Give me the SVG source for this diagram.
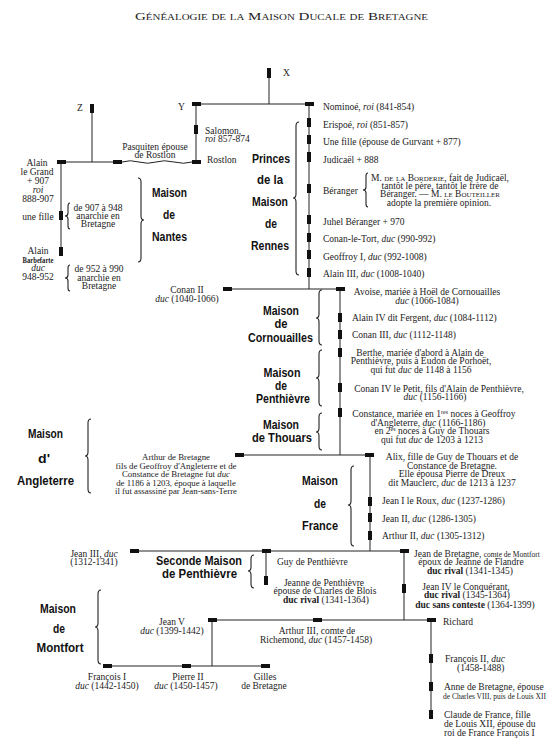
<svg xmlns="http://www.w3.org/2000/svg" width="554" height="751" viewBox="0 0 554 751">
<style>
.ln{stroke:#222;stroke-width:1;fill:none}
.br{stroke:#222;stroke-width:1.1;fill:none}
.mk{fill:#111}
.t{font-family:"Liberation Serif",serif;font-size:9.5px;fill:#222}
.s{font-size:8.8px}
.h{font-family:"Liberation Sans","DejaVu Sans",sans-serif;font-weight:bold;font-size:13px;fill:#111;text-anchor:middle}
.i{font-style:italic}
.b{font-weight:bold}
.c{text-anchor:middle}
</style>
<rect width="554" height="751" fill="#fff"/>
<text x="135" y="20" class="t" style="font-size:11px;font-variant:small-caps" textLength="293" lengthAdjust="spacingAndGlyphs">Généalogie de la Maison Ducale de Bretagne</text>

<g id="connectors">
<path class="ln" d="M269,78 V104 M196,104 H309 M196,104 V162 M92,113 V162 M61,162 H122 M61,162 V255 M309,104 V289 M227,289 H340 M340,289 V455 M239,455 H370 M370,455 V551 M134,551 H404 M266,551 V584 M404,551 V620 M212,620 H431 M212,620 V666 M107,666 H265 M431,620 V719"/>
<path class="ln" d="M122,162 q8,-2.5 17,0 t17,0 t18,0 t18,0"/>
</g>

<g id="braces">
<path class="br" d="M299,122 Q296,122 296,126 L296,194 Q296,198 293,198 Q296,198 296,202 L296,271 Q296,275 299,275"/>
<path class="br" d="M368,173 Q366,173 366,176 L366,187 Q366,190 363,190 Q366,190 366,193 L366,204 Q366,207 368,207"/>
<path class="br" d="M70,203 Q68,203 68,206 L68,213 Q68,216 65,216 Q68,216 68,219 L68,226 Q68,229 70,229"/>
<path class="br" d="M70,265 Q68,265 68,268 L68,275 Q68,278 65,278 Q68,278 68,281 L68,288 Q68,291 70,291"/>
<path class="br" d="M138,178 Q141,178 141,182 L141,216 Q141,220 144,220 Q141,220 141,224 L141,258 Q141,262 138,262"/>
<path class="br" d="M322,290 Q319,290 319,294 L319,314 Q319,318 316,318 Q319,318 319,322 L319,341 Q319,345 322,345"/>
<path class="br" d="M322,350 Q319,350 319,354 L319,374 Q319,378 316,378 Q319,378 319,382 L319,402 Q319,406 322,406"/>
<path class="br" d="M322,413 Q319,413 319,417 L319,428 Q319,432 316,432 Q319,432 319,436 L319,446 Q319,450 322,450"/>
<path class="br" d="M91,419 Q88,419 88,423 L88,452 Q88,456 85,456 Q88,456 88,460 L88,489 Q88,493 91,493"/>
<path class="br" d="M354,466 Q351,466 351,470 L351,501 Q351,505 348,505 Q351,505 351,509 L351,542 Q351,546 354,546"/>
<path class="br" d="M254,555 Q251,555 251,559 L251,567 Q251,571 248,571 Q251,571 251,575 L251,584 Q251,588 254,588"/>
<path class="br" d="M101,590 Q98,590 98,594 L98,623 Q98,627 95,627 Q98,627 98,631 L98,660 Q98,664 101,664"/>
</g>

<g id="houses">
<text class="h" x="169.5" y="197" textLength="35" lengthAdjust="spacingAndGlyphs">Maison</text>
<text class="h" x="169" y="219" textLength="12" lengthAdjust="spacingAndGlyphs">de</text>
<text class="h" x="169.5" y="241" textLength="35" lengthAdjust="spacingAndGlyphs">Nantes</text>
<text class="h" x="271" y="163" textLength="38" lengthAdjust="spacingAndGlyphs">Princes</text>
<text class="h" x="270" y="184" textLength="26" lengthAdjust="spacingAndGlyphs">de la</text>
<text class="h" x="270" y="206" textLength="36" lengthAdjust="spacingAndGlyphs">Maison</text>
<text class="h" x="271" y="228" textLength="12" lengthAdjust="spacingAndGlyphs">de</text>
<text class="h" x="270" y="250" textLength="38" lengthAdjust="spacingAndGlyphs">Rennes</text>
<text class="h" x="281" y="315" textLength="36" lengthAdjust="spacingAndGlyphs">Maison</text>
<text class="h" x="281" y="328" textLength="13" lengthAdjust="spacingAndGlyphs">de</text>
<text class="h" x="280.5" y="342" textLength="65" lengthAdjust="spacingAndGlyphs">Cornouailles</text>
<text class="h" x="282" y="377" textLength="37" lengthAdjust="spacingAndGlyphs">Maison</text>
<text class="h" x="281" y="390" textLength="12" lengthAdjust="spacingAndGlyphs">de</text>
<text class="h" x="283" y="403" textLength="54" lengthAdjust="spacingAndGlyphs">Penthièvre</text>
<text class="h" x="281" y="429" textLength="36" lengthAdjust="spacingAndGlyphs">Maison</text>
<text class="h" x="282" y="442" textLength="60" lengthAdjust="spacingAndGlyphs">de Thouars</text>
<text class="h" x="45.5" y="438" textLength="35" lengthAdjust="spacingAndGlyphs">Maison</text>
<text class="h" x="44" y="463" textLength="12" lengthAdjust="spacingAndGlyphs">d'</text>
<text class="h" x="45.5" y="485" textLength="57" lengthAdjust="spacingAndGlyphs">Angleterre</text>
<text class="h" x="320" y="485" textLength="36" lengthAdjust="spacingAndGlyphs">Maison</text>
<text class="h" x="320" y="508" textLength="12" lengthAdjust="spacingAndGlyphs">de</text>
<text class="h" x="320" y="530" textLength="36" lengthAdjust="spacingAndGlyphs">France</text>
<text class="h" x="199" y="565" textLength="86" lengthAdjust="spacingAndGlyphs">Seconde Maison</text>
<text class="h" x="199.5" y="578" textLength="75" lengthAdjust="spacingAndGlyphs">de Penthièvre</text>
<text class="h" x="58" y="613" textLength="36" lengthAdjust="spacingAndGlyphs">Maison</text>
<text class="h" x="59" y="633" textLength="12" lengthAdjust="spacingAndGlyphs">de</text>
<text class="h" x="60" y="652" textLength="47" lengthAdjust="spacingAndGlyphs">Montfort</text>
</g>

<g id="nX"><rect class="mk" x="267" y="68" width="4" height="10"/><text class="t" x="283" y="76">X</text></g>
<g id="nY"><rect class="mk" x="192" y="102" width="9" height="4"/><text class="t" x="178" y="110">Y</text></g>
<g id="nZ"><rect class="mk" x="90" y="104" width="4" height="9"/><text class="t" x="77" y="111">Z</text></g>
<g id="nSalomon"><rect class="mk" x="194" y="125" width="4" height="9"/><text class="t" x="205" y="134">Salomon,</text><text class="t" x="205" y="142"><tspan class="i">roi</tspan> 857-874</text></g>
<g id="nRostlon"><rect class="mk" x="192" y="160" width="9" height="4"/><text class="t" x="207" y="163">Rostlon</text></g>
<g id="nPasquiten"><rect class="mk" x="113" y="160" width="9" height="4"/><text class="t c" x="155" y="150">Pasquiten épouse</text><text class="t c" x="155" y="158">de Rostlon</text></g>
<g id="nAlainGrand"><rect class="mk" x="57" y="160" width="9" height="4"/>
<text class="t c" x="37" y="166">Alain</text><text class="t c" x="37" y="175">le Grand</text><text class="t c" x="38" y="184">+ 907</text><text class="t c i" x="38" y="193">roi</text><text class="t c" x="38" y="202">888-907</text></g>
<g id="nUneFille"><rect class="mk" x="59" y="211" width="4" height="9"/><text class="t c" x="38" y="220">une fille</text>
<text class="t c" x="98" y="211">de 907 à 948</text><text class="t c" x="98" y="219">anarchie en</text><text class="t c" x="98" y="227">Bretagne</text></g>
<g id="nBarbefarte"><rect class="mk" x="59" y="247" width="4" height="9"/>
<text class="t c" x="38" y="254">Alain</text><text class="t c b" x="38" y="263" style="font-size:8px" textLength="31" lengthAdjust="spacingAndGlyphs">Barbefarte</text><text class="t c i" x="38" y="271">duc</text><text class="t c" x="38" y="280">948-952</text>
<text class="t c" x="99" y="272">de 952 à 990</text><text class="t c" x="99" y="281">anarchie en</text><text class="t c" x="99" y="289">Bretagne</text></g>

<g id="nNominoe"><rect class="mk" x="305" y="102" width="9" height="4"/><text class="t" x="323" y="110">Nominoé, <tspan class="i">roi</tspan> (841-854)</text></g>
<g id="nErispoe"><rect class="mk" x="307" y="118" width="4" height="9"/><text class="t" x="323" y="128">Erispoé, <tspan class="i">roi</tspan> (851-857)</text></g>
<g id="nUneFille2"><rect class="mk" x="307" y="135" width="4" height="9"/><text class="t" x="323" y="145">Une fille (épouse de Gurvant + 877)</text></g>
<g id="nJudicael"><rect class="mk" x="307" y="152" width="4" height="10"/><text class="t" x="323" y="163">Judicaël + 888</text></g>
<g id="nBeranger"><rect class="mk" x="307" y="184" width="4" height="9"/><text class="t" x="323" y="194">Béranger</text>
<text class="t c" x="440" y="181">M. <tspan style="font-variant:small-caps">de la Borderie</tspan>, fait de Judicaël,</text>
<text class="t c" x="440" y="189">tantôt le père, tantôt le frère de</text>
<text class="t c" x="440" y="197">Béranger. — M. <tspan style="font-variant:small-caps">le Bouteiller</tspan></text>
<text class="t c" x="439" y="206">adopte la première opinion.</text></g>
<g id="nJuhel"><rect class="mk" x="307" y="215" width="4" height="9"/><text class="t" x="323" y="225">Juhel Béranger + 970</text></g>
<g id="nConanTort"><rect class="mk" x="307" y="233" width="4" height="9"/><text class="t" x="323" y="242">Conan-le-Tort, <tspan class="i">duc</tspan> (990-992)</text></g>
<g id="nGeoffroy"><rect class="mk" x="307" y="250" width="4" height="9"/><text class="t" x="323" y="260">Geoffroy I, <tspan class="i">duc</tspan> (992-1008)</text></g>
<g id="nAlainIII"><rect class="mk" x="307" y="268" width="4" height="9"/><text class="t" x="323" y="277">Alain III, <tspan class="i">duc</tspan> (1008-1040)</text></g>

<g id="nConanII"><rect class="mk" x="223" y="287" width="9" height="4"/><text class="t c" x="187" y="293">Conan II</text><text class="t c" x="187" y="302"><tspan class="i">duc</tspan> (1040-1066)</text></g>
<g id="nAvoise"><rect class="mk" x="336" y="287" width="9" height="4"/><text class="t c" x="427" y="295">Avoise, mariée à Hoël de Cornouailles</text><text class="t c" x="427" y="304"><tspan class="i">duc</tspan> (1066-1084)</text></g>
<g id="nAlainIV"><rect class="mk" x="338" y="313" width="4" height="9"/><text class="t" x="352" y="321">Alain IV dit Fergent, <tspan class="i">duc</tspan> (1084-1112)</text></g>
<g id="nConanIII"><rect class="mk" x="338" y="330" width="4" height="9"/><text class="t" x="352" y="338">Conan III, <tspan class="i">duc</tspan> (1112-1148)</text></g>
<g id="nBerthe"><rect class="mk" x="338" y="348" width="4" height="9"/><text class="t c" x="420" y="356">Berthe, mariée d'abord à Alain de</text><text class="t c" x="421" y="364">Penthièvre, puis à Eudon de Porhoët,</text><text class="t c" x="421" y="373">qui fut <tspan class="i">duc</tspan> de 1148 à 1156</text></g>
<g id="nConanIV"><rect class="mk" x="338" y="383" width="4" height="9"/><text class="t c" x="439" y="392">Conan IV le Petit, fils d'Alain de Penthièvre,</text><text class="t c" x="435" y="400"><tspan class="i">duc</tspan> (1156-1166)</text></g>
<g id="nConstance"><rect class="mk" x="338" y="408" width="4" height="9"/>
<text class="t c" x="434" y="417">Constance, mariée en 1<tspan style="font-size:6px" dy="-3">res</tspan><tspan dy="3"> noces à Geoffroy</tspan></text>
<text class="t c" x="428" y="426">d'Angleterre, <tspan class="i">duc</tspan> (1166-1186)</text>
<text class="t c" x="432" y="434">en 2<tspan style="font-size:6px" dy="-3">es</tspan><tspan dy="3"> noces à Guy de Thouars</tspan></text>
<text class="t c" x="432" y="443">qui fut <tspan class="i">duc</tspan> de 1203 à 1213</text></g>

<g id="nArthur"><rect class="mk" x="235" y="453" width="9" height="4"/>
<text class="t s c" x="176" y="460">Arthur de Bretagne</text>
<text class="t s c" x="176" y="468.5">fils de Geoffroy d'Angleterre et de</text>
<text class="t s c" x="176" y="477">Constance de Bretagne fut <tspan class="i">duc</tspan></text>
<text class="t s c" x="176" y="485.5">de 1186 à 1203, époque à laquelle</text>
<text class="t s c" x="176" y="494">il fut assassiné par Jean-sans-Terre</text></g>
<g id="nAlix"><rect class="mk" x="365" y="453" width="9" height="4"/>
<text class="t c" x="452" y="460">Alix, fille de Guy de Thouars et de</text>
<text class="t c" x="452" y="469">Constance de Bretagne.</text>
<text class="t c" x="452" y="477">Elle épousa Pierre de Dreux</text>
<text class="t c" x="452" y="486">dit Mauclerc, <tspan class="i">duc</tspan> de 1213 à 1237</text></g>
<g id="nJeanI"><rect class="mk" x="368" y="497" width="4" height="9"/><text class="t" x="382" y="504">Jean I le Roux, <tspan class="i">duc</tspan> (1237-1286)</text></g>
<g id="nJeanII"><rect class="mk" x="368" y="513" width="4" height="9"/><text class="t" x="382" y="522">Jean II, <tspan class="i">duc</tspan> (1286-1305)</text></g>
<g id="nArthurII"><rect class="mk" x="368" y="531" width="4" height="9"/><text class="t" x="382" y="539">Arthur II, <tspan class="i">duc</tspan> (1305-1312)</text></g>

<g id="nJeanIII"><rect class="mk" x="130" y="549" width="9" height="4"/><text class="t c" x="94" y="557">Jean III, <tspan class="i">duc</tspan></text><text class="t c" x="94" y="565">(1312-1341)</text></g>
<g id="nGuy"><rect class="mk" x="262" y="549" width="9" height="4"/><text class="t" x="277" y="565">Guy de Penthièvre</text></g>
<g id="nJeanne"><rect class="mk" x="264" y="576" width="4" height="9"/><text class="t c" x="324" y="586">Jeanne de Penthièvre</text><text class="t c" x="325" y="594">épouse de Charles de Blois</text><text class="t c" x="326" y="603"><tspan class="b">duc rival</tspan> (1341-1364)</text></g>
<g id="nJeanBretagne"><rect class="mk" x="400" y="549" width="9" height="4"/>
<text class="t" x="414" y="557">Jean de Bretagne, <tspan style="font-size:7.5px">comte de Montfort</tspan></text>
<text class="t c" x="471" y="565">époux de Jeanne de Flandre</text>
<text class="t c" x="470" y="574"><tspan class="b">duc rival</tspan> (1341-1345)</text></g>
<g id="nJeanIV"><rect class="mk" x="402" y="584" width="4" height="9"/>
<text class="t c" x="466" y="590">Jean IV le Conquérant,</text>
<text class="t c" x="467" y="598"><tspan class="b">duc rival</tspan> (1345-1364)</text>
<text class="t c" x="475" y="608"><tspan class="b">duc sans conteste</tspan> (1364-1399)</text></g>
<g id="nJeanV"><rect class="mk" x="208" y="618" width="9" height="4"/><text class="t c" x="172" y="625">Jean V</text><text class="t c" x="172" y="634"><tspan class="i">duc</tspan> (1399-1442)</text></g>
<g id="nArthurIII"><rect class="mk" x="313" y="618" width="9" height="4"/><text class="t c" x="317" y="634">Arthur III, comte de</text><text class="t c" x="316" y="643">Richemond, <tspan class="i">duc</tspan> (1457-1458)</text></g>
<g id="nRichard"><rect class="mk" x="427" y="618" width="9" height="4"/><text class="t" x="443" y="625">Richard</text></g>
<g id="nFrancoisI"><rect class="mk" x="103" y="664" width="9" height="4"/><text class="t c" x="107" y="680">François I</text><text class="t c" x="107" y="689"><tspan class="i">duc</tspan> (1442-1450)</text></g>
<g id="nPierreII"><rect class="mk" x="182" y="664" width="9" height="4"/><text class="t c" x="188" y="680">Pierre II</text><text class="t c" x="186" y="689"><tspan class="i">duc</tspan> (1450-1457)</text></g>
<g id="nGilles"><rect class="mk" x="261" y="664" width="9" height="4"/><text class="t c" x="265" y="680">Gilles</text><text class="t c" x="264" y="689">de Bretagne</text></g>
<g id="nFrancoisII"><rect class="mk" x="429" y="654" width="4" height="9"/><text class="t" x="445" y="662">François II, <tspan class="i">duc</tspan></text><text class="t" x="457" y="671">(1458-1488)</text></g>
<g id="nAnne"><rect class="mk" x="429" y="682" width="4" height="9"/><text class="t" x="444" y="690">Anne de Bretagne, épouse</text><text class="t" x="443" y="699" style="font-size:8px" textLength="103" lengthAdjust="spacingAndGlyphs">de Charles VIII, puis de Louis XII</text></g>
<g id="nClaude"><rect class="mk" x="429" y="710" width="4" height="9"/><text class="t" x="444" y="718">Claude de France, fille</text><text class="t" x="444" y="727">de Louis XII, épouse du</text><text class="t" x="444" y="736">roi de France François I</text></g>
</svg>
